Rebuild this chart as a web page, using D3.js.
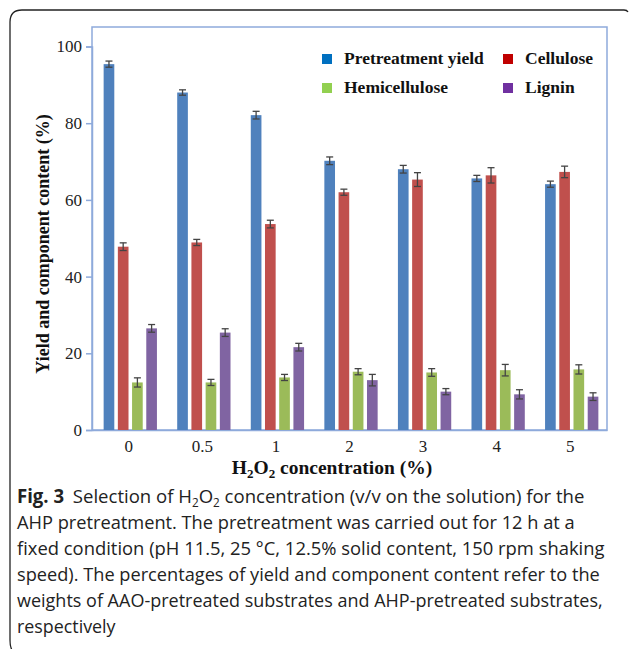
<!DOCTYPE html>
<html>
<head>
<meta charset="utf-8">
<script src="https://cdn.jsdelivr.net/npm/d3@7"></script>
<style>
  body { margin: 0; background: #fff; }
</style>
</head>
<body>
<div id="canvas"></div>
<script>
// ////////// DATA /////////////

var concentrations = ["0", "0.5", "1", "2", "3", "4", "5"];
var seriesNames = ["Pretreatment yield", "Cellulose", "Hemicellulose", "Lignin"];

var yieldValues = [95.4, 88.0, 82.1, 70.2, 68.0, 65.6, 64.1];
var yieldErrors = [0.8, 0.7, 1.0, 1.0, 1.0, 0.8, 0.8];
var celluloseValues = [47.8, 48.9, 53.7, 62.0, 65.3, 66.4, 67.3];
var celluloseErrors = [1.0, 0.8, 1.0, 0.8, 1.8, 2.0, 1.5];
var hemiValues = [12.4, 12.4, 13.7, 15.2, 15.0, 15.6, 15.8];
var hemiErrors = [1.2, 0.8, 0.8, 0.8, 1.0, 1.5, 1.2];
var ligninValues = [26.5, 25.4, 21.6, 13.0, 10.0, 9.3, 8.7];
var ligninErrors = [1.0, 1.0, 1.0, 1.5, 0.8, 1.2, 1.0];

var yTicks = [0, 20, 40, 60, 80, 100];

var captionLines = [
  "AHP pretreatment. The pretreatment was carried out for 12 h at a",
  "fixed condition (pH 11.5, 25 °C, 12.5% solid content, 150 rpm shaking",
  "speed). The percentages of yield and component content refer to the",
  "weights of AAO-pretreated substrates and AHP-pretreated substrates,",
  "respectively"
];

///////// GLOBAL VARS //////////

var width = 629, height = 649;
var plot = { left: 92, top: 27, right: 607, bottom: 430 };

var barColor = ["#4f81bd", "#c0504d", "#9bbb59", "#8064a2"];
var legendColor = ["#0070c0", "#c00000", "#92d050", "#7030a0"];
var axisBlue = "#8eaadb";
var serif = "'Liberation Serif', 'Times New Roman', serif";
var sans = "'Open Sans', 'Noto Sans', sans-serif";

// widths of the full caption lines in the reference (condensed font)
var captionWidths = [568, 558, 588, 583, 586];
var captionScale = 0.94; // for the short last line

var values = [yieldValues, celluloseValues, hemiValues, ligninValues];
var errors = [yieldErrors, celluloseErrors, hemiErrors, ligninErrors];

var svg = d3.select("#canvas")
  .append("svg")
  .attr("width", width)
  .attr("height", height)
  .style("display", "block");

// outer figure frame (top + left with rounded corner)
svg.append("path")
  .attr("d", "M12,650 Q10,647 10,640 L10,22 Q10,10 22,10 L624,10 Q627,10 628,12")
  .attr("fill", "none")
  .attr("stroke", "#222")
  .attr("stroke-width", 1.3);

// scales
var x = d3.scaleBand()
  .domain(concentrations)
  .range([plot.left, plot.right])
  .padding(0);

var inner = d3.scaleBand()
  .domain(d3.range(seriesNames.length))
  .range([0, 53.3])
  .paddingInner(0.25)
  .paddingOuter(0);

var y = d3.scaleLinear()
  .domain([0, 100])
  .range([plot.bottom, 46.5]);

// plot frame
svg.append("rect")
  .attr("x", plot.left)
  .attr("y", plot.top)
  .attr("width", plot.right - plot.left)
  .attr("height", plot.bottom - plot.top)
  .attr("fill", "none")
  .attr("stroke", axisBlue)
  .attr("stroke-width", 1.5);

// y axis
var yAxis = svg.append("g")
  .attr("transform", `translate(${plot.left},0)`)
  .call(d3.axisLeft(y).tickValues(yTicks).tickSize(6).tickPadding(4));
yAxis.select(".domain").attr("stroke", axisBlue).attr("stroke-width", 1.5);
yAxis.selectAll(".tick line").attr("stroke", axisBlue).attr("stroke-width", 1.5);
yAxis.selectAll(".tick text")
  .attr("font-family", serif)
  .attr("font-size", 17)
  .attr("fill", "#222");

// x axis
var xAxis = svg.append("g")
  .attr("transform", `translate(0,${plot.bottom})`)
  .call(d3.axisBottom(x).tickSize(0).tickPadding(10));
xAxis.select(".domain").attr("stroke", axisBlue).attr("stroke-width", 1.5);
xAxis.selectAll(".tick text")
  .attr("font-family", serif)
  .attr("font-size", 17)
  .attr("fill", "#222");

// bars
var groupOffset = (x.bandwidth() - 53.3) / 2 + 1.5;
seriesNames.forEach(function (name, s) {
  var g = svg.append("g");
  g.selectAll("rect")
    .data(concentrations)
    .join("rect")
    .attr("x", (d, i) => x(d) + groupOffset + inner(s))
    .attr("y", (d, i) => y(values[s][i]))
    .attr("width", inner.bandwidth())
    .attr("height", (d, i) => y(0) - y(values[s][i]))
    .attr("fill", barColor[s]);

  // error bars
  var eb = g.selectAll("g.err")
    .data(concentrations)
    .join("g")
    .attr("class", "err")
    .attr("stroke", "#444")
    .attr("stroke-width", 1.3);
  eb.append("line")
    .attr("x1", (d, i) => x(d) + groupOffset + inner(s) + inner.bandwidth() / 2)
    .attr("x2", (d, i) => x(d) + groupOffset + inner(s) + inner.bandwidth() / 2)
    .attr("y1", (d, i) => y(values[s][i] + errors[s][i]))
    .attr("y2", (d, i) => y(values[s][i] - errors[s][i]));
  [1, -1].forEach(function (sign) {
    eb.append("line")
      .attr("x1", (d, i) => x(d) + groupOffset + inner(s) + inner.bandwidth() / 2 - 3.5)
      .attr("x2", (d, i) => x(d) + groupOffset + inner(s) + inner.bandwidth() / 2 + 3.5)
      .attr("y1", (d, i) => y(values[s][i] + sign * errors[s][i]))
      .attr("y2", (d, i) => y(values[s][i] + sign * errors[s][i]));
  });
});

// legend
var legendPos = [[322, 54], [503, 54], [322, 83], [503, 83]];
seriesNames.forEach(function (name, s) {
  svg.append("rect")
    .attr("x", legendPos[s][0])
    .attr("y", legendPos[s][1])
    .attr("width", 10)
    .attr("height", 10)
    .attr("fill", legendColor[s]);
  svg.append("text")
    .attr("x", legendPos[s][0] + 22)
    .attr("y", legendPos[s][1] + 10)
    .attr("font-family", serif)
    .attr("font-weight", "bold")
    .attr("font-size", 17.5)
    .attr("fill", "#111")
    .text(name);
});

// y axis title
svg.append("text")
  .attr("transform", "translate(49,244) rotate(-90)")
  .attr("text-anchor", "middle")
  .attr("font-family", serif)
  .attr("font-weight", "bold")
  .attr("font-size", 18)
  .attr("fill", "#111")
  .text("Yield and component content (%)");

// x axis title
var xt = svg.append("text")
  .attr("x", 332)
  .attr("y", 474)
  .attr("text-anchor", "middle")
  .attr("font-family", serif)
  .attr("font-weight", "bold")
  .attr("font-size", 19.5)
  .attr("fill", "#111");
xt.append("tspan").text("H");
xt.append("tspan").attr("font-size", 13).attr("dy", 4).text("2");
xt.append("tspan").attr("dy", -4).text("O");
xt.append("tspan").attr("font-size", 13).attr("dy", 4).text("2");
xt.append("tspan").attr("dy", -4).text(" concentration (%)");

// caption: squeeze each line to the reference width
function fitLine(sel, i) {
  var k = captionScale;
  if (i < captionWidths.length) {
    k = captionWidths[i] / sel.node().getBBox().width;
  }
  sel.attr("transform", `translate(17,${503 + i * 26}) scale(${k},1)`);
}

var cap = svg.append("text")
  .attr("font-family", sans)
  .attr("font-size", 19)
  .attr("fill", "#222");
cap.append("tspan").attr("font-weight", "bold").text("Fig. 3");
cap.append("tspan").attr("dx", 9).text("Selection of H");
cap.append("tspan").attr("font-size", 12).attr("dy", 4).text("2");
cap.append("tspan").attr("dy", -4).text("O");
cap.append("tspan").attr("font-size", 12).attr("dy", 4).text("2");
cap.append("tspan").attr("dy", -4).text(" concentration (v/v on the solution) for the");
fitLine(cap, 0);

captionLines.forEach(function (line, i) {
  var t = svg.append("text")
    .attr("font-family", sans)
    .attr("font-size", 19)
    .attr("fill", "#222")
    .text(line);
  fitLine(t, i + 1);
});
</script>
</body>
</html>
